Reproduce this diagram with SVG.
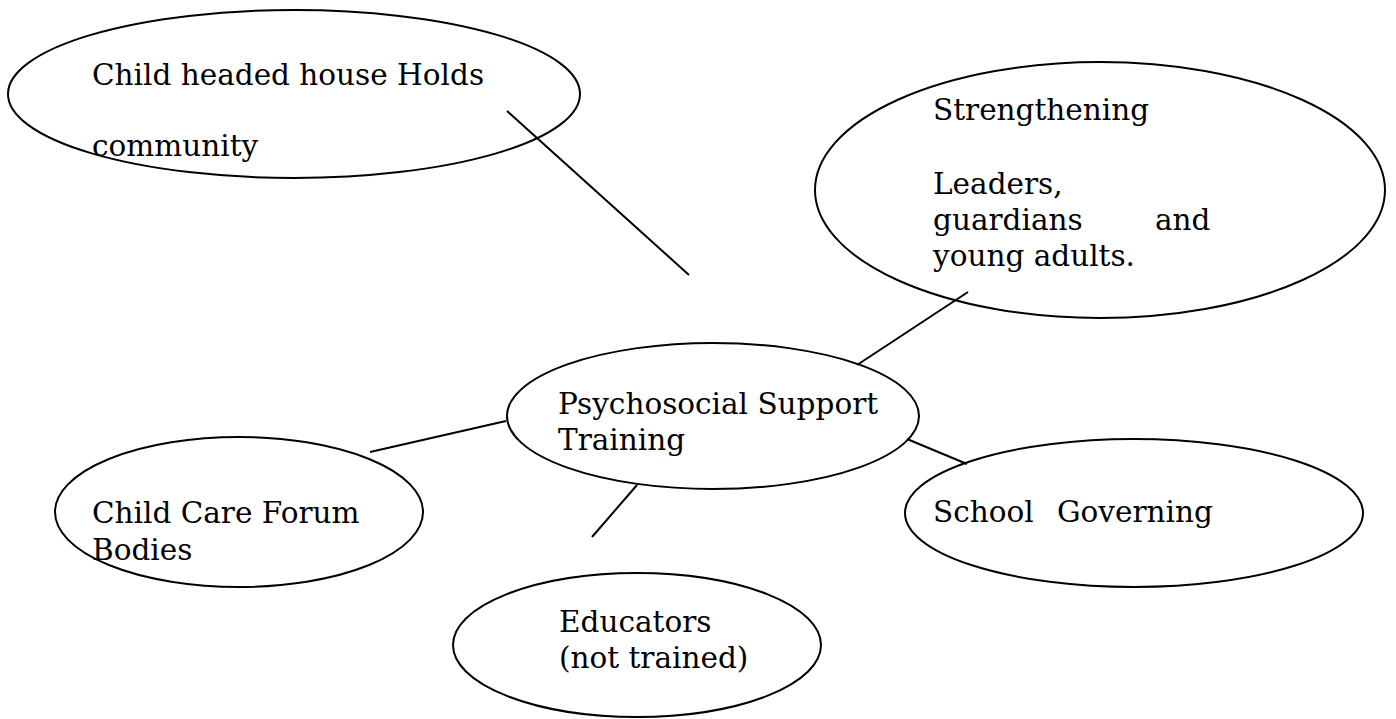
<svg xmlns="http://www.w3.org/2000/svg" width="1396" height="719" viewBox="0 0 1396 719">
<style>
.node ellipse{fill:none;stroke:#000;stroke-width:2}
.lbl{font-family:"DejaVu Serif","Liberation Serif",serif;font-size:29.5px;fill:#000}
#connectors line{stroke:#000;stroke-width:2}
</style>
<rect width="1396" height="719" fill="#fff"/>
<g id="node-child-headed" class="node">
<ellipse cx="294" cy="94" rx="286" ry="84"/>
<text class="lbl" x="92" y="85">Child headed house Holds</text>
<text class="lbl" x="92" y="156">community</text>
</g>
<g id="node-strengthening" class="node">
<ellipse cx="1100" cy="190" rx="285" ry="128"/>
<text class="lbl" x="933" y="120">Strengthening</text>
<text class="lbl" x="933" y="194">Leaders,</text>
<text class="lbl" x="933" y="230">guardians</text>
<text class="lbl" x="1155" y="230">and</text>
<text class="lbl" x="933" y="266">young adults.</text>
</g>
<g id="node-psychosocial" class="node">
<ellipse cx="713" cy="416" rx="206" ry="73"/>
<text class="lbl" x="558" y="414">Psychosocial Support</text>
<text class="lbl" x="558" y="450">Training</text>
</g>
<g id="node-child-care" class="node">
<ellipse cx="239" cy="512" rx="184" ry="75"/>
<text class="lbl" x="92" y="523">Child Care Forum</text>
<text class="lbl" x="92" y="560">Bodies</text>
</g>
<g id="node-educators" class="node">
<ellipse cx="637" cy="645" rx="184" ry="72"/>
<text class="lbl" x="559" y="632">Educators</text>
<text class="lbl" x="559" y="668">(not trained)</text>
</g>
<g id="node-school" class="node">
<ellipse cx="1134" cy="513" rx="229" ry="74"/>
<text class="lbl" x="933" y="522">School</text>
<text class="lbl" x="1057" y="522">Governing</text>
</g>
<g id="connectors">
<line x1="507" y1="111" x2="689" y2="275"/>
<line x1="968" y1="292" x2="857" y2="365"/>
<line x1="370" y1="452" x2="506" y2="421"/>
<line x1="637" y1="485" x2="592" y2="537"/>
<line x1="907" y1="439" x2="967" y2="464"/>
</g>
</svg>
